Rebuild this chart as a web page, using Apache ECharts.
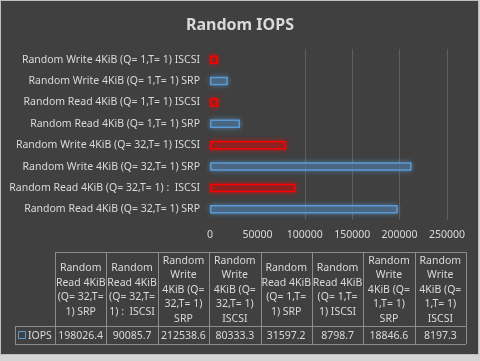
<!DOCTYPE html>
<html><head><meta charset="utf-8">
<script src="https://cdn.jsdelivr.net/npm/echarts@6/dist/echarts.min.js"></script>
<style>html,body{margin:0;padding:0;background:#d4d4d4}#c{width:480px;height:361px}</style>
</head><body><div id="c"></div>
<script>
const categories = [
  'Random Read 4KiB (Q= 32,T= 1) SRP',
  'Random Read 4KiB (Q= 32,T= 1) :  ISCSI',
  'Random Write 4KiB (Q= 32,T= 1) SRP',
  'Random Write 4KiB (Q= 32,T= 1) ISCSI',
  'Random Read 4KiB (Q= 1,T= 1) SRP',
  'Random Read 4KiB (Q= 1,T= 1) ISCSI',
  'Random Write 4KiB (Q= 1,T= 1) SRP',
  'Random Write 4KiB (Q= 1,T= 1) ISCSI'
];
const iops = [198026.4, 90085.7, 212538.6, 80333.3, 31597.2, 8798.7, 18846.6, 8197.3];
const seriesName = 'IOPS';
const xTicks = [0, 50000, 100000, 150000, 200000, 250000];

const FONT = 'Noto Sans';
const TXT = '#d9d9d9';
const chart = echarts.init(document.getElementById('c'));

const blue = '#5b9bd5', red = '#ff0000';
const barData = iops.map((v, i) => {
  const srp = /SRP$/.test(categories[i]);
  return {
    value: v,
    itemStyle: {
      color: srp ? 'rgba(70,90,110,0.55)' : 'rgba(110,40,40,0.55)',
      borderColor: srp ? blue : red,
      borderWidth: 1.5,
      shadowBlur: 5,
      shadowColor: srp ? 'rgba(91,155,213,0.8)' : 'rgba(255,0,0,0.8)'
    }
  };
});

// word wrap helper for the data-table header
const HFONT = '10.5px "' + FONT + '"';
const mctx = document.createElement('canvas').getContext('2d');
mctx.font = HFONT;
function wrap(text, maxW) {
  const words = text.split(' ');
  const lines = [];
  let cur = '';
  for (const w of words) {
    const trial = cur === '' ? w : cur + ' ' + w;
    if (cur !== '' && mctx.measureText(trial.trim()).width > maxW) {
      lines.push(cur);
      cur = w;
    } else cur = trial;
  }
  if (cur !== '') lines.push(cur);
  return lines.join('\n');
}

// data table geometry
const tLeft = 55, tRight = 466, tTop = 252, hBottom = 326, rBottom = 344, keyLeft = 15;
const colW = (tRight - tLeft) / categories.length;
const lineC = '#8c8c8c';
const g = [];
g.push({type:'rect', z:-10, shape:{x:0.5,y:0.5,width:478,height:354}, style:{fill:'#404040', stroke:'#bfbfbf', lineWidth:1}});
g.push({type:'line', shape:{x1:tLeft,y1:tTop+0.5,x2:tRight,y2:tTop+0.5}, style:{stroke:lineC,lineWidth:1}});
g.push({type:'line', shape:{x1:keyLeft,y1:hBottom+0.5,x2:tRight,y2:hBottom+0.5}, style:{stroke:lineC,lineWidth:1}});
g.push({type:'line', shape:{x1:keyLeft,y1:rBottom+0.5,x2:tRight,y2:rBottom+0.5}, style:{stroke:lineC,lineWidth:1}});
g.push({type:'line', shape:{x1:keyLeft+0.5,y1:hBottom,x2:keyLeft+0.5,y2:rBottom}, style:{stroke:lineC,lineWidth:1}});
for (let i = 0; i <= categories.length; i++) {
  const x = Math.round(tLeft + i * colW) + 0.5;
  g.push({type:'line', shape:{x1:x,y1:tTop,x2:x,y2:rBottom}, style:{stroke:lineC,lineWidth:1}});
}
categories.forEach((c, i) => {
  const cx = tLeft + (i + 0.5) * colW;
  g.push({type:'text', x:cx, y:(tTop + hBottom) / 2 + 1, style:{
    text:wrap(c, 50.4), align:'center', verticalAlign:'middle',
    fill:TXT, font:HFONT, lineHeight:14.5}});
  g.push({type:'text', x:cx, y:(hBottom + rBottom) / 2 + 1, style:{
    text:String(iops[i]), align:'center', verticalAlign:'middle', fill:TXT, font:'10.5px "' + FONT + '"'}});
});
g.push({type:'rect', shape:{x:18.5,y:331.5,width:7,height:7}, style:{fill:'none', stroke:blue, lineWidth:1}});
g.push({type:'text', x:28, y:(hBottom + rBottom) / 2 + 1, style:{text:seriesName, align:'left', verticalAlign:'middle', fill:TXT, font:'10.5px "' + FONT + '"'}});

chart.setOption({
  animation: false,
  backgroundColor: 'transparent',
  title: {text:'Random IOPS', left:'center', top:12, textStyle:{color:TXT, fontFamily:FONT, fontSize:16, fontWeight:'bold'}},
  grid: {left:210, right:33, top:49, bottom:141, containLabel:false},
  xAxis: {type:'value', min:xTicks[0], max:xTicks[xTicks.length-1], interval:xTicks[1]-xTicks[0],
    axisLine:{show:false}, axisTick:{show:false},
    axisLabel:{color:TXT, fontFamily:FONT, fontSize:10.5, margin:10, formatter: v => String(v)},
    splitLine:{show:true, lineStyle:{color:['transparent','transparent','#5e5e5e','#5e5e5e','#5e5e5e','#5e5e5e'], width:1}}},
  yAxis: {type:'category', data:categories, axisLine:{show:false}, axisTick:{show:false},
    axisLabel:{color:TXT, fontFamily:FONT, fontSize:10.5, margin:10}},
  series: [{type:'bar', name:seriesName, data:barData, barWidth:'40%'}],
  graphic: g
});
</script></body></html>
